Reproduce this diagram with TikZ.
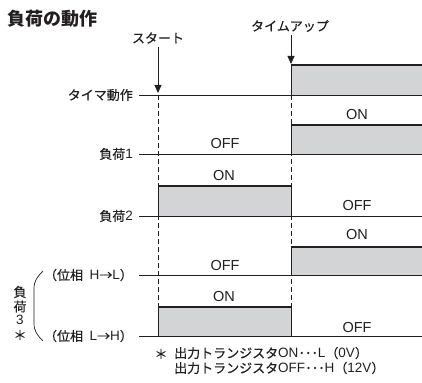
\documentclass[tikz,border=0pt]{standalone}
\usepackage{fontspec}
\setmainfont{Liberation Sans}
\newfontfamily\jp[FakeBold=0.35]{Noto Sans CJK JP}
\newfontfamily\jpt{Noto Sans CJK JP}
\newcommand\lat[1]{{\rmfamily\fontsize{13.5}{13.5}\selectfont #1}}
\usetikzlibrary{arrows.meta}
\definecolor{boxgray}{RGB}{211,212,213}
\definecolor{ink}{RGB}{35,31,32}
\begin{document}
\begin{tikzpicture}[x=1pt,y=-1pt,
  baseline/.style={line width=0.8pt, draw=ink},
  high/.style={line width=2.3pt, draw=ink},
  graybox/.style={fill=boxgray, draw=none},
  edgeline/.style={line width=0.8pt, draw=ink},
  guide/.style={line width=0.6pt, dash pattern=on 5pt off 3pt, draw=ink},
  lab/.style={font=\jp\fontsize{13}{13}\selectfont, inner sep=0pt, text=ink},
  state/.style={font=\fontsize{14.5}{14.5}\selectfont, inner sep=0pt, text=ink},
  marker/.style={line width=0.8pt, draw=ink, -{Triangle[length=8pt,width=7pt]}}]
\useasboundingbox (0,0) rectangle (422,382);

% title
\node[font=\jpt\bfseries\fontsize{18}{18}\selectfont, anchor=west, inner sep=0pt, text=ink] (title) at (7,19) {負荷の動作};

% event markers
\node[lab] (start) at (158,38) {スタート};
\node[lab] (timeup) at (290,26) {タイムアップ};
\coordinate (startTip) at (158,93);
\coordinate (upTip) at (291,64);

% guides
\coordinate (g1a) at (158,95);  \coordinate (g1b) at (158,307);
\coordinate (g2a) at (291,95);  \coordinate (g2b) at (291,336);
\draw[guide] (g1a) -- (g1b);
\draw[guide] (g2a) -- (g2b);

\draw[marker] (start.south) ++(0,3) -- (startTip);
\draw[marker] (timeup.south) ++(1,3) -- (upTip);

% gray boxes
\fill[graybox] (291,65) rectangle (422,95);
\fill[graybox] (291,125) rectangle (422,154);
\fill[graybox] (158,186) rectangle (291,216);
\fill[graybox] (291,247) rectangle (422,275);
\fill[graybox] (158,307) rectangle (291,336);

% row labels
\node[lab, anchor=east] (rtimer) at (133,95) {タイマ動作};
\node[lab, anchor=east] (rload1) at (133,154) {負荷\lat{1}};
\node[lab, anchor=east] (rload2) at (133,216) {負荷\lat{2}};
\node[lab, anchor=east] (rhl) at (133,275) {（位相\hspace{0.5em}\lat{H}→\lat{L}）};
\node[lab, anchor=east] (rlh) at (133,336) {（位相\hspace{0.5em}\lat{L}→\lat{H}）};
\node[lab] (v1) at (20,292) {負};
\node[lab] (v2) at (20,306.5) {荷};
\node[lab] (v3) at (20,320) {\lat{3}};
\node[lab] (v4) at (20,335) {＊};

% brace
\draw[line width=0.7pt, draw=ink] (43,271) .. controls (37,277) and (34,281) .. (34,289) -- (34,323) .. controls (34,331) and (37,335) .. (43,341);

% baselines
\coordinate (e1) at (422,95);
\coordinate (e2) at (422,154);
\coordinate (e3) at (422,216);
\coordinate (e4) at (422,275);
\coordinate (e5) at (422,336);
\draw[baseline] (139,95) -- (e1);
\draw[baseline] (139,154) -- (e2);
\draw[baseline] (139,216) -- (e3);
\draw[baseline] (139,275) -- (e4);
\draw[baseline] (139,336) -- (e5);

% waveforms
\draw[edgeline] (291,65) -- (291,95);
\draw[high] (291,65) -- (422,65);

\draw[edgeline] (291,125) -- (291,154);
\draw[high] (291,125) -- (422,125);

\draw[edgeline] (158,186) -- (158,216);
\draw[edgeline] (291,186) -- (291,216);
\draw[high] (157.6,186) -- (291.4,186);

\draw[edgeline] (291,247) -- (291,275);
\draw[high] (291,247) -- (422,247);

\draw[edgeline] (158,307) -- (158,336);
\draw[edgeline] (291,307) -- (291,336);
\draw[high] (157.6,307) -- (291.4,307);

% states
\node[state] (s1) at (357,115) {ON};
\node[state] (s2) at (225,144) {OFF};
\node[state] (s3) at (224,176) {ON};
\node[state] (s4) at (357,206) {OFF};
\node[state] (s5) at (357,235) {ON};
\node[state] (s6) at (225,266) {OFF};
\node[state] (s7) at (224,297) {ON};
\node[state] (s8) at (357,328) {OFF};

% footnote
\node[lab] (star) at (161,354) {＊};
\node[lab, anchor=west] (fn1) at (174,353) {出力トランジスタ\lat{ON}･･･\lat{L}（\lat{0V}）};
\node[lab, anchor=west] (fn2) at (174,368) {出力トランジスタ\lat{OFF}･･･\lat{H}（\lat{12V}）};
\end{tikzpicture}
\end{document}
